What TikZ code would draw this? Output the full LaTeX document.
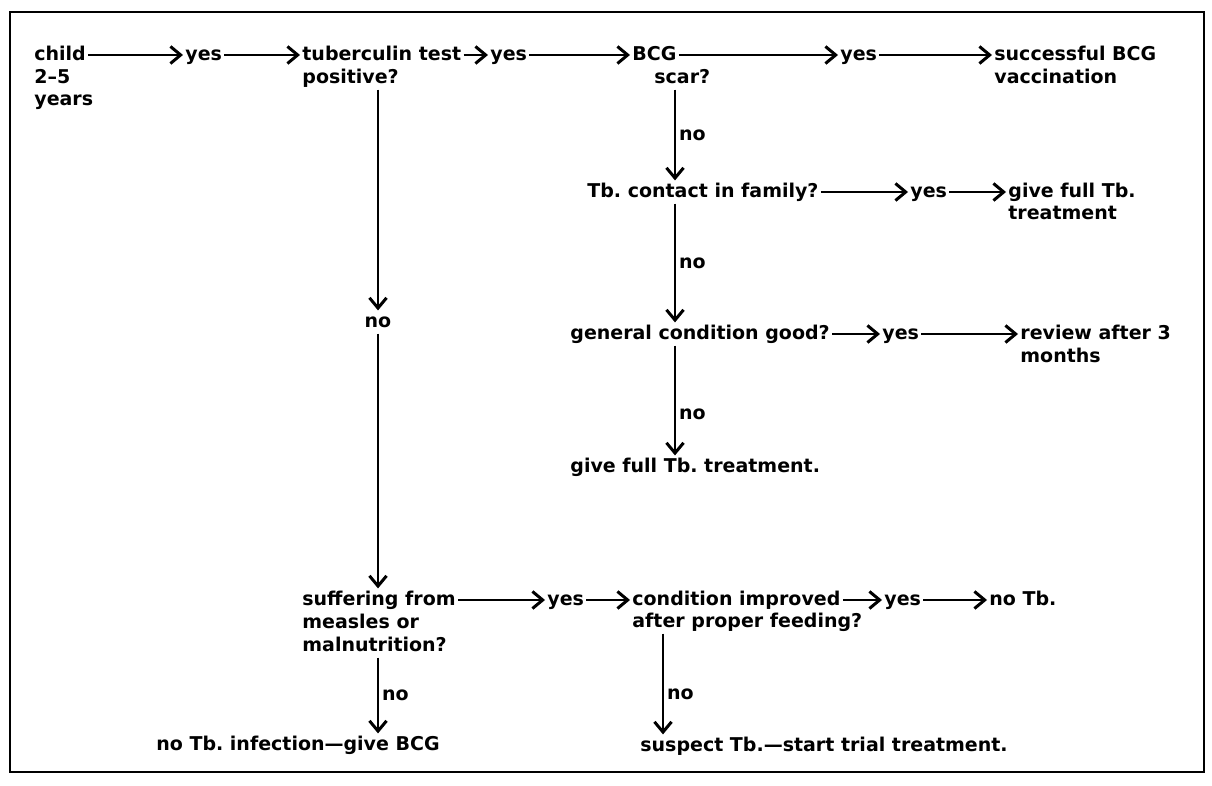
\documentclass[tikz,border=0pt]{standalone}
\usepackage{fontspec}
\setmainfont{DejaVu Sans}
\usetikzlibrary{arrows.meta,positioning,calc}
\tikzset{
  txt/.style={anchor=west,inner sep=1pt,text height=7.2pt,text depth=2pt,
    font=\fontsize{9.5pt}{11pt}\selectfont\bfseries\frenchspacing},
  lbl/.style={txt,inner sep=1.5pt},
  arr/.style={-{Straight Barb[length=1.8mm,width=3mm,line width=1.5pt]},
    line width=1pt,draw=black}
}

\begin{document}
\begin{tikzpicture}[x=0.5pt,y=-0.5pt]
    \useasboundingbox (0,0) rectangle (1212,786);
    \draw[line width=1.3pt] (10,12) rectangle (1204,772);
    % first row
    \node[txt] (child) at (32,55) {child};
    \node[txt] (age) at (32,78) {2–5};
    \node[txt] (years) at (32,100) {years};
    \node[txt] (yesA) at (183,55) {yes};
    \node[txt] (tb) at (300,55) {tuberculin test};
    \node[txt] (tbq) at (300,78) {positive?};
    \node[txt] (yesB) at (488,55) {yes};
    \node[txt] (bcg) at (630,55) {BCG};
    \node[txt] (scar) at (652,78) {scar?};
    \node[txt] (yesC) at (838,55) {yes};
    \node[txt] (succ) at (992,55) {successful BCG};
    \node[txt] (vacc) at (992,78) {vaccination};
    % BCG scar branch
    \node[txt] (contact) at (585,192) {Tb. contact in family?};
    \node[txt] (yesD) at (908,192) {yes};
    \node[txt] (treatA) at (1006,192) {give full Tb.};
    \node[txt] (treatA2) at (1006,214) {treatment};
    \node[txt] (gen) at (568,334) {general condition good?};
    \node[txt] (yesE) at (880,334) {yes};
    \node[txt] (review) at (1018,334) {review after 3};
    \node[txt] (review2) at (1018,357) {months};
    \node[txt] (treatB) at (568,467) {give full Tb. treatment.};
    % negative test branch
    \node[txt,anchor=center] (noA) at (378,322) {no};
    \node[txt] (suff) at (300,600) {suffering from};
    \node[txt] (meas) at (300,623) {measles or};
    \node[txt] (maln) at (300,646) {malnutrition?};
    \node[txt] (yesF) at (545,600) {yes};
    \node[txt] (cond) at (630,600) {condition improved};
    \node[txt] (feed) at (630,622) {after proper feeding?};
    \node[txt] (yesG) at (882,600) {yes};
    \node[txt] (notb) at (987,600) {no Tb.};
    \node[txt,anchor=center] (bcgnow) at (298,745) {no Tb. infection—give BCG};
    \node[txt] (trial) at (638,746) {suspect Tb.—start trial treatment.};
    \coordinate (colB) at (675,0);
    \coordinate (colC) at (663,0);
    % connectors
    \draw[arr] (child) -- (yesA);
    \draw[arr] (yesA) -- (tb);
    \draw[arr] (tb) -- (yesB);
    \draw[arr] (yesB) -- (bcg);
    \draw[arr] (bcg) -- (yesC);
    \draw[arr] (yesC) -- (succ);
    \draw[arr] (scar.south -| colB) -- (contact.north -| colB)
      node[lbl,midway] (noB) {no};
    \draw[arr] (contact) -- (yesD);
    \draw[arr] (yesD) -- (treatA);
    \draw[arr] (contact.south -| colB) -- (gen.north -| colB)
      node[lbl,midway] (noC) {no};
    \draw[arr] (gen) -- (yesE);
    \draw[arr] (yesE) -- (review);
    \draw[arr] (gen.south -| colB) -- (treatB.north -| colB)
      node[lbl,pos=0.63] (noD) {no};
    \draw[arr] (tbq.south -| noA) -- (noA);
    \draw[arr] (noA) -- (suff.north -| noA);
    \draw[arr] (suff) -- (yesF);
    \draw[arr] (yesF) -- (cond);
    \draw[arr] (cond) -- (yesG);
    \draw[arr] (yesG) -- (notb);
    \draw[arr] (maln.south -| noA) -- (bcgnow.north -| noA)
      node[lbl,midway] (noE) {no};
    \draw[arr] (feed.south -| colC) -- (trial.north -| colC)
      node[lbl,pos=0.6] (noF) {no};
  \end{tikzpicture}
\end{document}
